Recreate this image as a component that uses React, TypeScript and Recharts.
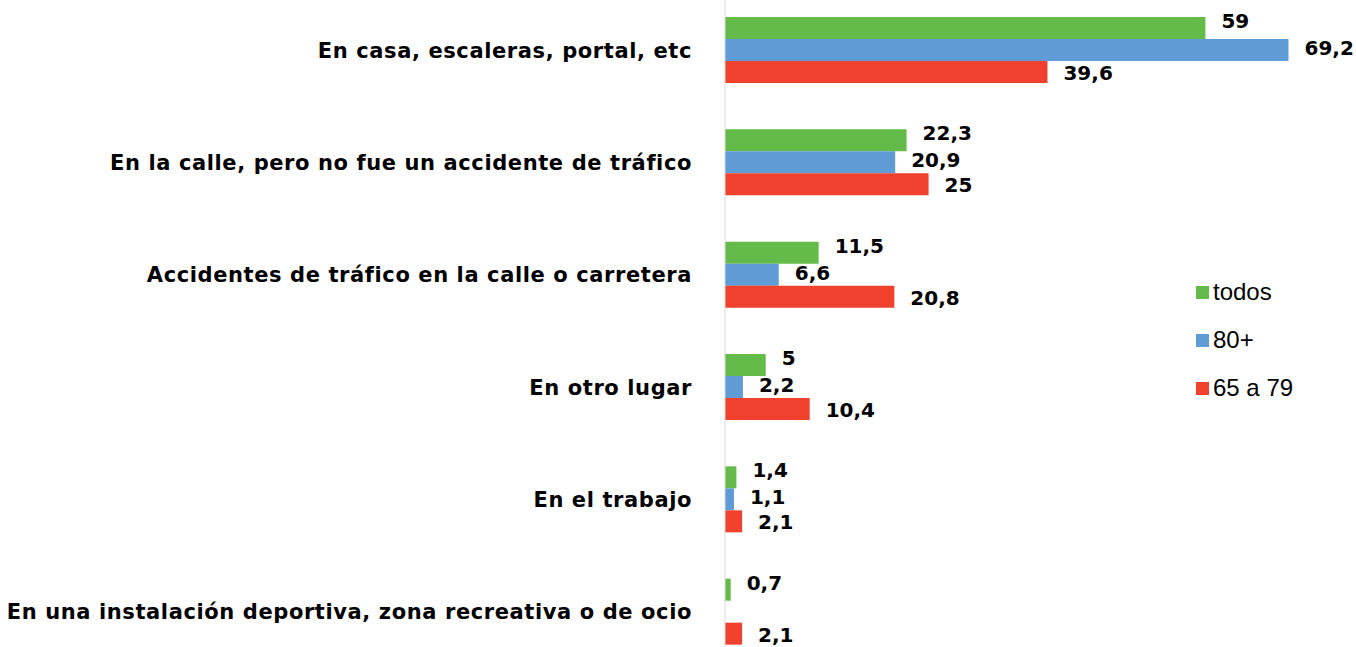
import { Bar, BarChart, LabelList, XAxis, YAxis } from "recharts"

const categories = [
  "En casa, escaleras, portal, etc",
  "En la calle, pero no fue un accidente de tráfico",
  "Accidentes de tráfico en la calle o carretera",
  "En otro lugar",
  "En el trabajo",
  "En una instalación deportiva, zona recreativa o de ocio",
]

const todos = [59, 22.3, 11.5, 5, 1.4, 0.7]
const mas80 = [69.2, 20.9, 6.6, 2.2, 1.1, null]
const de65a79 = [39.6, 25, 20.8, 10.4, 2.1, 2.1]

const series = [
  { key: "todos", name: "todos", color: "#65bb4a", dy: -7 },
  { key: "mas80", name: "80+", color: "#5f9bd5", dy: -2 },
  { key: "de65a79", name: "65 a 79", color: "#ef412e", dy: 1 },
]

const data = categories.map((name, i) => ({
  name,
  todos: todos[i],
  mas80: mas80[i],
  de65a79: de65a79[i],
}))

const heavy = "'DejaVu Sans', Verdana, sans-serif"
const plain = "'Liberation Sans', Arial, sans-serif"

const fmt = (v: number | null) => (v == null ? "" : String(v).replace(".", ","))

function makeLabel(dy: number) {
  return (props: any) => {
    const { x, y, width, height, value } = props
    if (value == null) return null
    return (
      <text
        x={Number(x) + Number(width) + 16}
        y={Number(y) + Number(height) / 2 + dy}
        dominantBaseline="central"
        fontFamily={heavy}
        fontWeight="bold"
        fontSize={20}
        fill="#000"
      >
        {fmt(value)}
      </text>
    )
  }
}

function LegendBox() {
  return (
    <div style={{ position: "absolute", left: 1196, top: 268, fontFamily: plain, fontSize: 24, color: "#000" }}>
      {series.map((s) => (
        <div key={s.key} style={{ display: "flex", alignItems: "center", height: 48 }}>
          <span style={{ width: 13, height: 13, background: s.color, marginRight: 4, display: "inline-block" }} />
          <span>{s.name}</span>
        </div>
      ))}
    </div>
  )
}

export default function App() {
  return (
    <div style={{ position: "absolute", left: 0, top: 0, width: 1356, height: 647, overflow: "hidden", background: "#fff" }}>
      <div style={{ position: "absolute", left: 0, top: -6 }}>
        <BarChart
          width={1356}
          height={674}
          data={data}
          layout="vertical"
          barSize={22}
          barGap={0}
          margin={{ top: 0, right: 61, bottom: 0, left: 0 }}
        >
          <XAxis type="number" domain={[0, 70]} hide />
          <YAxis
            dataKey="name"
            type="category"
            width={725}
            tickLine={false}
            axisLine={{ stroke: "#d9d9d9" }}
            tickMargin={27}
            interval={0}
            tick={{ fill: "#000", fontSize: 21, fontWeight: "bold", fontFamily: heavy, letterSpacing: 0.6 }}
          />
          {series.map((s) => (
            <Bar key={s.key} dataKey={s.key} name={s.name} fill={s.color} isAnimationActive={false}>
              <LabelList dataKey={s.key} content={makeLabel(s.dy)} />
            </Bar>
          ))}
        </BarChart>
      </div>
      <LegendBox />
    </div>
  )
}
